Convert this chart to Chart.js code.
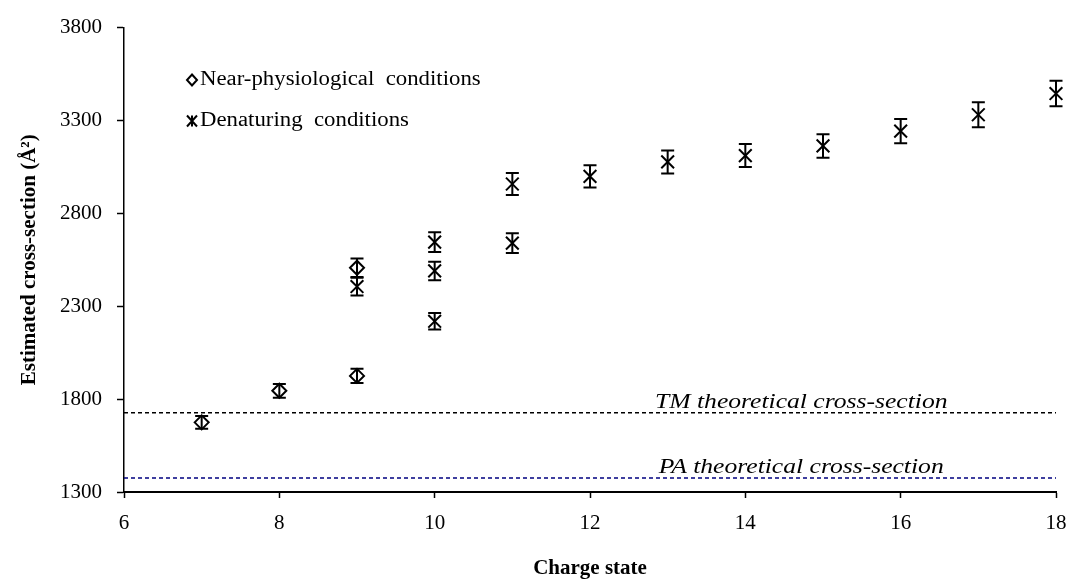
<!DOCTYPE html>
<html>
<head>
<meta charset="utf-8">
<title>Cross-section vs charge state</title>
<script src="https://cdn.jsdelivr.net/npm/chart.js@4/dist/chart.umd.min.js"></script>
<style>
  html, body { margin: 0; padding: 0; background: #fff; }
  #wrap { width: 1072px; height: 581px; position: relative; }
</style>
</head>
<body>
<div id="wrap"><canvas id="chart"></canvas></div>
<script>
// near-physiological conditions
const nearCharge = [7, 8, 9, 9];
const nearCross = [1675, 1845, 1925, 2507];
const nearErr = [34, 37, 38, 50];

// denaturing conditions
const denatCharge = [9, 10, 10, 10, 11, 11, 12, 13, 14, 15, 16, 17, 18];
const denatCross = [2406, 2219, 2490, 2645, 2640, 2958, 2999, 3077, 3111, 3163, 3243, 3331, 3445];
const denatErr = [48, 44, 50, 53, 53, 59, 60, 62, 62, 63, 65, 67, 69];

// theoretical cross-sections
const refLabels = ['TM theoretical cross-section', 'PA theoretical cross-section'];
const refLevels = [1727, 1376];
const refColors = ['#000000', '#000080'];

const xTicks = [6, 8, 10, 12, 14, 16, 18];
const yTicks = [1300, 1800, 2300, 2800, 3300, 3800];

const SERIF = '"Liberation Serif", "Times New Roman", serif';

const pts = (xs, ys) => xs.map((x, i) => ({ x, y: ys[i] }));

// text drawn a bit wider than the font's natural width
function wideText(ctx, text, x, y, sx, align) {
  ctx.save();
  ctx.translate(x, y);
  ctx.scale(sx, 1);
  ctx.textAlign = align;
  ctx.fillText(text, 0, 0);
  ctx.restore();
}

const errorBars = {
  id: 'errorBars',
  afterDatasetsDraw(chart) {
    const { ctx, scales: { x, y } } = chart;
    ctx.save();
    ctx.strokeStyle = '#000';
    ctx.lineWidth = 2;
    chart.data.datasets.forEach(ds => {
      if (!ds.errors) return;
      ds.data.forEach((p, i) => {
        const px = x.getPixelForValue(p.x);
        const top = y.getPixelForValue(p.y + ds.errors[i]);
        const bot = y.getPixelForValue(p.y - ds.errors[i]);
        ctx.beginPath();
        ctx.moveTo(px, top); ctx.lineTo(px, bot);
        ctx.moveTo(px - 6.5, top); ctx.lineTo(px + 6.5, top);
        ctx.moveTo(px - 6.5, bot); ctx.lineTo(px + 6.5, bot);
        ctx.stroke();
      });
    });
    ctx.restore();
  }
};

const annotations = {
  id: 'annotations',
  afterDraw(chart) {
    const { ctx, scales: { x, y } } = chart;
    ctx.save();
    // labels over the dashed reference lines
    ctx.font = 'italic 20px ' + SERIF;
    ctx.fillStyle = '#000';
    ctx.textBaseline = 'alphabetic';
    refLabels.forEach((t, i) => {
      wideText(ctx, t, x.getPixelForValue(14.72), y.getPixelForValue(refLevels[i]) - 5, 1.28, 'center');
    });

    // legend
    ctx.font = '20px ' + SERIF;
    ctx.textBaseline = 'middle';
    ctx.strokeStyle = '#000';
    ctx.lineWidth = 2;
    const lx = 192;
    ctx.beginPath();
    ctx.moveTo(lx, 80 - 5.5); ctx.lineTo(lx + 5, 80); ctx.lineTo(lx, 80 + 5.5); ctx.lineTo(lx - 5, 80);
    ctx.closePath();
    ctx.stroke();
    wideText(ctx, 'Near-physiological  conditions', 200, 80, 1.14, 'left');
    ctx.beginPath();
    ctx.moveTo(lx - 5, 121 - 5.5); ctx.lineTo(lx + 5, 121 + 5.5);
    ctx.moveTo(lx + 5, 121 - 5.5); ctx.lineTo(lx - 5, 121 + 5.5);
    ctx.moveTo(lx, 121 - 5.5); ctx.lineTo(lx, 121 + 5.5);
    ctx.stroke();
    wideText(ctx, 'Denaturing  conditions', 200, 121, 1.14, 'left');
    ctx.restore();
  }
};

const refSets = refLevels.map((lvl, i) => ({
  type: 'line',
  label: refLabels[i],
  data: [{ x: xTicks[0], y: lvl }, { x: xTicks[xTicks.length - 1], y: lvl }],
  borderColor: refColors[i],
  borderWidth: 1.5,
  borderDash: [4, 3],
  pointRadius: 0,
  fill: false
}));

function draw() {
  new Chart(document.getElementById('chart'), {
    type: 'scatter',
    data: {
      datasets: [
        {
          label: 'Near-physiological conditions',
          data: pts(nearCharge, nearCross),
          errors: nearErr,
          pointStyle: 'rectRot',
          pointRadius: 7,
          borderColor: '#000',
          backgroundColor: 'rgba(0,0,0,0)',
          borderWidth: 2,
          clip: false
        },
        {
          label: 'Denaturing conditions',
          data: pts(denatCharge, denatCross),
          errors: denatErr,
          pointStyle: 'crossRot',
          pointRadius: 9,
          borderColor: '#000',
          borderWidth: 2,
          clip: false
        },
        ...refSets
      ]
    },
    options: {
      responsive: true,
      maintainAspectRatio: false,
      animation: false,
      events: [],
      layout: { padding: { top: 24, right: 0, left: 0, bottom: 0 } },
      plugins: { legend: { display: false }, tooltip: { enabled: false } },
      scales: {
        x: {
          type: 'linear',
          min: 6, max: 18,
          afterFit: s => { s.height = 89; s.paddingLeft = 0; s.paddingRight = 16; },
          afterBuildTicks: s => { s.ticks = xTicks.map(v => ({ value: v })); },
          border: { color: '#000', width: 2 },
          grid: { drawOnChartArea: false, color: '#000', tickLength: 6, tickWidth: 1.5 },
          ticks: { color: '#000', padding: 13, font: { family: SERIF, size: 21 }, callback: v => String(v) },
          title: {
            display: true, text: 'Charge state', color: '#000',
            font: { family: SERIF, size: 21, weight: 'bold' },
            padding: { top: 4, bottom: 0 }
          }
        },
        y: {
          type: 'linear',
          min: 1300, max: 3800,
          afterFit: s => { s.width = 124; },
          afterBuildTicks: s => { s.ticks = yTicks.map(v => ({ value: v })); },
          border: { color: '#000', width: 1.5 },
          grid: { drawOnChartArea: false, color: '#000', tickLength: 7, tickWidth: 1.5 },
          ticks: { color: '#000', padding: 15, font: { family: SERIF, size: 21 }, callback: v => String(v) },
          title: {
            display: true, text: 'Estimated cross-section (Å²)', color: '#000',
            font: { family: SERIF, size: 21, weight: 'bold' },
            padding: { top: 17, bottom: 0 }
          }
        }
      }
    },
    plugins: [errorBars, annotations]
  });
}

Promise.all([
  document.fonts.load('20px "Liberation Serif"'),
  document.fonts.load('italic 20px "Liberation Serif"'),
  document.fonts.load('bold 20px "Liberation Serif"')
]).then(draw, draw);
</script>
</body>
</html>
